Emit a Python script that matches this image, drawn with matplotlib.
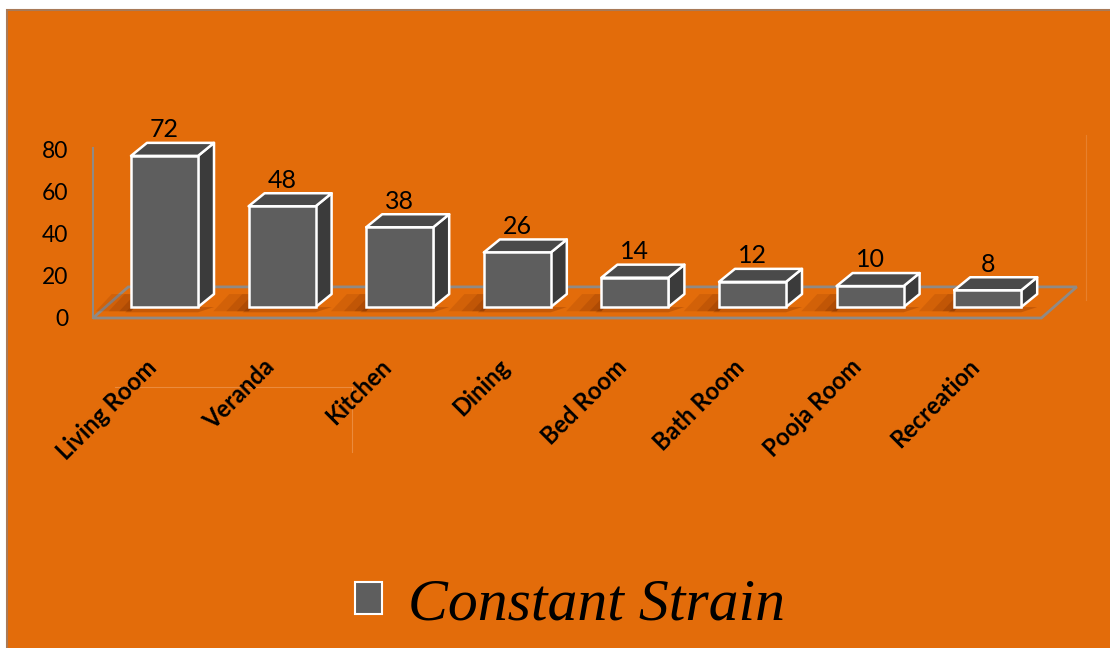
import matplotlib.pyplot as plt
from matplotlib.patches import Polygon, Rectangle, Patch
from matplotlib.transforms import ScaledTranslation

rooms = ['Living Room', 'Veranda', 'Kitchen', 'Dining', 'Bed Room',
         'Bath Room', 'Pooja Room', 'Recreation']
strain = [72, 48, 38, 26, 14, 12, 10, 8]
yticks = [0, 20, 40, 60, 80]
series_name = 'Constant Strain'

orange = '#e36c0a'
front_c = '#5e5e5e'
top_c = '#4a4a4a'
side_c = '#3b3b3b'
floor_edge = '#8f8a86'

# fake 3d geometry (data units)
bw = 0.57          # bar width
b0 = 5.2           # bar base above floor front edge
ddx, ddy = 0.136, 6.2   # depth offset of boxes
fl_back = 14.8     # floor depth
fl_dx = 0.30

fig = plt.figure(figsize=(11.1, 6.48), dpi=100, facecolor='white')
fig.patches.append(Rectangle((7/1110, -0.02), 1.05, 1.02 - 10/648,
                             transform=fig.transFigure, fc=orange,
                             ec='#a97a58', lw=1.5, zorder=-10))

ax = fig.add_axes([93/1110, (648-340)/648, (1090-93)/1110, 240/648])
ax.set_facecolor('none')
ax.set_zorder(2)
ax.set_xlim(-0.608, 7.87)
ax.set_ylim(-10.48, 103.8)
for s in ax.spines.values():
    s.set_visible(False)

x = list(range(len(rooms)))
x0, x1 = -0.608, len(rooms) - 1 + 0.457

# floor
ax.add_patch(Polygon([(x0, 0), (x1, 0), (x1 + fl_dx, fl_back), (x0 + fl_dx, fl_back)],
                     closed=True, fc='none', ec=floor_edge, lw=2, zorder=1, clip_on=False))
ax.plot([x0, x0], [0, 81], color=floor_edge, lw=1.5, zorder=1, clip_on=False)

# shadows on floor
for i in x:
    l = i - bw/2
    for w, a in [(0.30, 0.14), (0.19, 0.17), (0.10, 0.22)]:
        ax.add_patch(Polygon([(l - w, b0 - 2), (l, b0 - 2), (l + ddx, b0 + ddy), (l + ddx - w, b0 + ddy)],
                             closed=True, fc='#6e2400', ec='none', alpha=a, zorder=2))
    ax.add_patch(Polygon([(l - 0.05, b0 - 2.5), (l + bw, b0 - 2.5), (l + bw + ddx, b0), (l, b0)],
                         closed=True, fc='#6e2400', ec='none', alpha=0.25, zorder=2))

# boxes
for i, v in zip(x, strain):
    l, r = i - bw/2, i + bw/2
    t = b0 + v
    ax.add_patch(Polygon([(r, b0), (r + ddx, b0 + ddy), (r + ddx, t + ddy), (r, t)],
                         closed=True, fc=side_c, ec='white', lw=1.8, zorder=3, joinstyle='round'))
    ax.add_patch(Polygon([(l, t), (r, t), (r + ddx, t + ddy), (l + ddx, t + ddy)],
                         closed=True, fc=top_c, ec='white', lw=1.8, zorder=3, joinstyle='round'))
ax.bar(x, strain, width=bw, bottom=b0, color=front_c, edgecolor='white', linewidth=1.8, zorder=4)

for i, v in zip(x, strain):
    ax.text(i, b0 + v + ddy + 6.3, str(v), ha='center', va='center',
            fontsize=18, family='Lato', color='black', zorder=5)

ax.set_yticks(yticks)
ax.set_yticklabels([str(t) for t in yticks], fontsize=16.5, family='Lato')
ax.tick_params(axis='y', length=0, pad=18)
ax.set_xticks(x)
ax.set_xticklabels(rooms, rotation=45, ha='right', va='top', rotation_mode='anchor',
                   fontsize=17, family='Lato', fontweight='bold')
ax.tick_params(axis='x', length=0, pad=11)
off = ScaledTranslation(-20/100, 0, fig.dpi_scale_trans)
for lab in ax.get_xticklabels():
    lab.set_transform(lab.get_transform() + off)

# faint plot-area traces
fig.add_artist(plt.Line2D([115/1110, 352/1110], [1 - 387/648, 1 - 387/648],
                          transform=fig.transFigure, color='#f2a060', lw=0.8, alpha=0.6))
fig.add_artist(plt.Line2D([352/1110, 352/1110], [1 - 387/648, 1 - 452/648],
                          transform=fig.transFigure, color='#f2a060', lw=0.8, alpha=0.6))
fig.add_artist(plt.Line2D([1086/1110, 1086/1110], [1 - 135/648, 1 - 300/648],
                          transform=fig.transFigure, color='#f2a060', lw=0.8, alpha=0.4))

handle = Patch(facecolor=front_c, edgecolor='white', linewidth=1.5)
fig.legend([handle], [series_name], loc='center', bbox_to_anchor=(570/1110, 1 - 605/648),
           frameon=False, handlelength=0.45, handleheight=0.45, handletextpad=0.45,
           prop={'family': 'Liberation Serif', 'style': 'italic', 'size': 43})

fig.savefig('out.png', dpi=100, facecolor='white')
